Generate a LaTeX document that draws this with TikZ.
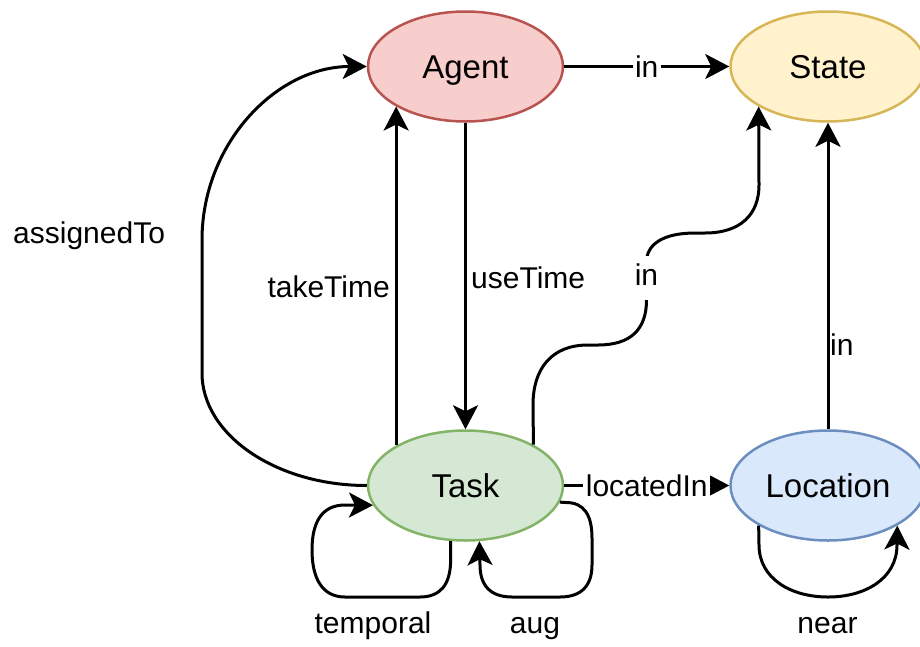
\documentclass[tikz,border=0pt]{standalone}
\usepackage{fontspec}
\setmainfont{Liberation Sans}
\usetikzlibrary{arrows.meta,shapes.geometric}

\definecolor{agentfill}{HTML}{F8CECC}
\definecolor{agentline}{HTML}{B85450}
\definecolor{statefill}{HTML}{FFF2CC}
\definecolor{stateline}{HTML}{D6B656}
\definecolor{taskfill}{HTML}{D5E8D4}
\definecolor{taskline}{HTML}{82B366}
\definecolor{locfill}{HTML}{DAE8FC}
\definecolor{locline}{HTML}{6C8EBF}

\begin{document}
\begin{tikzpicture}[x=1pt,y=-1pt,
  entity/.style={ellipse, draw, line width=2.5pt, minimum width=195pt,
    minimum height=110pt, inner sep=0pt, text height=24pt, text depth=0pt,
    font=\fontsize{33}{40}\selectfont},
  edge/.style={line width=3pt, -{Stealth[length=24pt,width=25pt,inset=6pt]}},
  lbl/.style={font=\fontsize{30}{36}\selectfont, inner sep=0pt},
  onlbl/.style={lbl, fill=white, inner xsep=2.5pt, inner ysep=2.5pt}]

\useasboundingbox (0,0) rectangle (920,646);

% classes
\node[entity, fill=agentfill, draw=agentline] (agent) at (465.5,66.5) {Agent};
\node[entity, fill=statefill, draw=stateline] (state) at (828,66.5) {State};
\node[entity, fill=taskfill, draw=taskline] (task) at (465.5,485.5) {Task};
\node[entity, fill=locfill, draw=locline] (loc) at (828,485.5) {Location};

% relations between classes
\draw[edge] (agent) -- node[onlbl] (lAgentIn) {in} (state);

\draw[edge] (task.150) -- (agent.210);
\node[lbl, anchor=base east] (lTake) at (390,297) {takeTime};

\draw[edge] (agent) -- (task);
\node[lbl, anchor=base west] (lUse) at (471,288) {useTime};

\draw[edge] (task.west) .. controls (276,485.5) and (202,434.8) .. (202,373)
  -- (202,240) .. controls (202,144) and (276,66.5) .. (agent.west);
\node[lbl, anchor=base west] (lAssigned) at (13,243) {assignedTo};

\draw[edge] (task.31) -- (533,405) .. controls (533,368) and (552,345) .. (588,345)
  -- (598,345) .. controls (630,345) and (646.5,330) .. (646.5,300)
  -- (646.5,262) .. controls (646.5,245) and (662,233) .. (695,233)
  -- (705,233) .. controls (740,233) and (759,215) .. (759,185) -- (state.210);
\node[onlbl, anchor=base, text depth=8pt, inner ysep=7pt] (lTaskIn) at (646.5,285) {in};

\draw[edge] (task) -- node[onlbl] (lLocated) {locatedIn} (loc);

\draw[edge] (loc) -- (state);
\node[lbl, anchor=base west] (lLocIn) at (830,355) {in};

% self relations
\draw[edge] (task.255) -- (task.255 |- 0,562) .. controls (450,585) and (440,597) .. (420,597)
  -- (345,597) .. controls (322,597) and (312,578) .. (312,550)
  .. controls (312,522) and (322,505) .. (345,505) -- (task.192);
\node[lbl, anchor=base] (lTemporal) at (373,633) {temporal};

\draw[edge] (task.350) -- (566,502.5) .. controls (584,502.5) and (592,515) .. (592,538)
  -- (592,565) .. controls (592,585) and (582,597) .. (560,597)
  -- (512,597) .. controls (490,597) and (480,585) .. (480,565) -- (task.284);
\node[lbl, anchor=base] (lAug) at (535,633) {aug};

\draw[edge] (loc.210) -- (759,545) .. controls (759,578) and (790,597) .. (828,597)
  .. controls (866,597) and (897,578) .. (897,545) -- (loc.330);
\node[lbl, anchor=base] (lNear) at (827.5,633) {near};

\end{tikzpicture}
\end{document}
